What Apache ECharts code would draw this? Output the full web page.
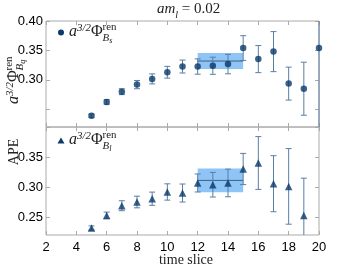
<!DOCTYPE html>
<html><head><meta charset="utf-8">
<script src="https://cdn.jsdelivr.net/npm/echarts@6/dist/echarts.min.js"></script>
<style>html,body{margin:0;padding:0;background:#fff}#c{width:353px;height:265px}</style>
</head><body><div id="c"></div>
<script>
// ---- data ----
var tTop = [5, 6, 7, 8, 9, 10, 11, 12, 13, 14, 15, 16, 17, 18, 19, 20];
var phiBs = [0.239, 0.2625, 0.280, 0.292, 0.3017, 0.313, 0.3227, 0.3227, 0.324, 0.3268, 0.354, 0.3353, 0.348, 0.2937, 0.285, 0.354];
var phiBsErr = [0.003, 0.004, 0.005, 0.007, 0.0085, 0.010, 0.011, 0.013, 0.0145, 0.0165, 0.021, 0.023, 0.034, 0.028, 0.045, 0.25];
var tBot = [5, 6, 7, 8, 9, 10, 11, 12, 13, 14, 15, 16, 17, 18, 19];
var phiBl = [0.2317, 0.2527, 0.2688, 0.275, 0.2805, 0.2917, 0.290, 0.3067, 0.3038, 0.3067, 0.330, 0.340, 0.3055, 0.301, 0.2527];
var phiBlErr = [0.0035, 0.0055, 0.0083, 0.0097, 0.011, 0.0136, 0.015, 0.015, 0.0205, 0.023, 0.026, 0.044, 0.0467, 0.063, 0.062];
var fitRange = [12, 15];
var fitTop = [0.332, 0.0137];   // value, error
var fitBot = [0.311, 0.0197];
var xTicks = [2, 4, 6, 8, 10, 12, 14, 16, 18, 20];
var yTicks = [0.25, 0.30, 0.35, 0.40];
var yLabelsTop = [0.30, 0.35, 0.40];
var yLabelsBot = [0.25, 0.30, 0.35];

var MARK = '#0b3a6b', ERR = '#5a7ea3', BAND = '#8ec4f6', FIT = '#3f6283', AX = '#aaaaaa';

function pairs(xs, ys, es) { return xs.map(function (x, i) { return es ? [x, ys[i], es[i]] : [x, ys[i]]; }); }

function errItem(params, api) {
  var x = api.value(0), y = api.value(1), e = api.value(2);
  var cs = params.coordSys;
  var top = api.coord([x, y + e]), bot = api.coord([x, y - e]);
  var ch = [];
  var t = top[1], b = bot[1], tc = true, bc = true;
  if (t < cs.y) { t = cs.y; tc = false; }
  if (b > cs.y + cs.height) { b = cs.y + cs.height; bc = false; }
  var st = { stroke: ERR, lineWidth: 1 };
  ch.push({ type: 'line', shape: { x1: top[0], y1: t, x2: top[0], y2: b }, style: st });
  if (tc) ch.push({ type: 'line', shape: { x1: top[0] - 3, y1: t, x2: top[0] + 3, y2: t }, style: st });
  if (bc) ch.push({ type: 'line', shape: { x1: top[0] - 3, y1: b, x2: top[0] + 3, y2: b }, style: st });
  return { type: 'group', children: ch };
}
function bandItem(params, api) {
  var a = api.coord([api.value(0), api.value(2) + api.value(3)]);
  var b = api.coord([api.value(1), api.value(2) - api.value(3)]);
  return { type: 'rect', shape: { x: a[0], y: a[1], width: b[0] - a[0], height: b[1] - a[1] }, style: { fill: BAND } };
}

var G = [{ left: 46, top: 21, width: 273, height: 106 }, { left: 46, top: 127, width: 273, height: 108 }];
var grids = G.map(function (g) { return Object.assign({ show: true, borderColor: AX, borderWidth: 1, backgroundColor: 'transparent' }, g); });

var tickStyle = { show: true, inside: true, length: 4, lineStyle: { color: AX } };
var xAxes = [], yAxes = [];
[0, 1].forEach(function (gi) {
  ['bottom', 'top'].forEach(function (pos) {
    xAxes.push({
      type: 'value', gridIndex: gi, position: pos, min: 2, max: 20, interval: 2,
      axisLine: { show: false }, splitLine: { show: false },
      axisTick: Object.assign({}, tickStyle),
      axisLabel: { show: gi === 1 && pos === 'bottom', margin: 6, color: '#000', fontSize: 13, fontFamily: 'Liberation Sans' }
    });
  });
  ['left', 'right'].forEach(function (pos) {
    yAxes.push({
      type: 'value', gridIndex: gi, position: pos, min: 0.22, max: 0.40,
      axisLine: { show: false }, splitLine: { show: false },
      axisTick: Object.assign({ customValues: yTicks }, tickStyle),
      axisLabel: {
        show: pos === 'left', customValues: gi === 0 ? yLabelsTop : yLabelsBot, margin: 3,
        color: '#000', fontSize: 13, fontFamily: 'Liberation Sans',
        formatter: function (v) { return (+v).toFixed(2); }
      }
    });
  });
});

function panelSeries(xi, yi, xs, ys, es, fit, sym) {
  return [
    { type: 'custom', xAxisIndex: xi, yAxisIndex: yi, renderItem: bandItem, data: [[fitRange[0], fitRange[1], fit[0], fit[1]]], z: 1, silent: true },
    { type: 'line', xAxisIndex: xi, yAxisIndex: yi, data: [[fitRange[0], fit[0]], [fitRange[1], fit[0]]], symbol: 'none', lineStyle: { color: FIT, width: 1 }, z: 2, silent: true },
    { type: 'custom', xAxisIndex: xi, yAxisIndex: yi, renderItem: errItem, data: pairs(xs, ys, es), z: 3, silent: true },
    { type: 'scatter', xAxisIndex: xi, yAxisIndex: yi, data: pairs(xs, ys), symbol: sym, symbolSize: sym === 'circle' ? 6.5 : 7.5, itemStyle: { color: MARK }, z: 4, clip: false, silent: true }
  ];
}

// ---- math text helper ----
var ctx = document.createElement('canvas').getContext('2d');
function fnt(p) { return (p.i ? 'italic ' : '') + p.s + 'px "Liberation Serif"'; }
function meas(p) { ctx.font = fnt(p); return ctx.measureText(p.t).width; }
function mathEls(items) {
  var x = 0, out = [];
  items.forEach(function (it) {
    if (it.stack) {
      var x0 = x, mw = 0;
      it.stack.forEach(function (seq) {
        var xx = x0;
        seq.forEach(function (p) { out.push(Object.assign({ x: xx }, p)); xx += meas(p); });
        mw = Math.max(mw, xx - x0);
      });
      x = x0 + mw;
    } else { out.push(Object.assign({ x: x }, it)); x += meas(it); }
  });
  return out.map(function (p) {
    return { type: 'text', x: p.x, y: p.dy || 0, style: { text: p.t, font: fnt(p), fill: '#222', verticalAlign: 'bottom', align: 'left' } };
  });
}
function phiItems(S, sub) {
  var s = S * 0.68;
  return [
    { t: 'a', s: S, i: true },
    { t: '3/2', s: s, i: true, dy: -S * 0.4 },
    { t: 'Φ', s: S },
    { stack: [[{ t: 'ren', s: s, dy: -S * 0.45 }], [{ t: 'B', s: s, i: true, dy: S * 0.22 }, { t: sub, s: s * 0.75, i: true, dy: S * 0.32 }]] }
  ];
}

var graphic = [
  { type: 'group', x: 69, y: 40, children: mathEls(phiItems(16, 's')) },
  { type: 'group', x: 69, y: 148, children: mathEls(phiItems(16, 'l')) },
  { type: 'circle', shape: { cx: 61, cy: 32.5, r: 3 }, style: { fill: MARK } },
  { type: 'polygon', shape: { points: [[61, 137.5], [64.5, 143.5], [57.5, 143.5]] }, style: { fill: MARK } },
  { type: 'group', x: 22, y: 104, rotation: Math.PI / 2, children: mathEls(phiItems(16, 'q')) },
  { type: 'text', x: 21, y: 152, rotation: Math.PI / 2, style: { text: 'APE', font: '14px "Liberation Serif"', fill: '#222', align: 'center', verticalAlign: 'bottom' } },
  { type: 'group', x: 157, y: 17, children: mathEls([{ t: 'am', s: 15, i: true }, { t: 'l', s: 10, i: true, dy: 3 }, { t: ' = 0.02', s: 15 }]) },
  { type: 'text', x: 186, y: 260, style: { text: 'time slice', font: '14px "Liberation Serif"', fill: '#222', align: 'center', verticalAlign: 'middle' } }
];

var chart = echarts.init(document.getElementById('c'), null, { renderer: 'canvas' });
chart.setOption({
  animation: false,
  grid: grids,
  xAxis: xAxes,
  yAxis: yAxes,
  series: panelSeries(0, 0, tTop, phiBs, phiBsErr, fitTop, 'circle').concat(panelSeries(2, 2, tBot, phiBl, phiBlErr, fitBot, 'triangle')),
  graphic: graphic
});
</script></body></html>
